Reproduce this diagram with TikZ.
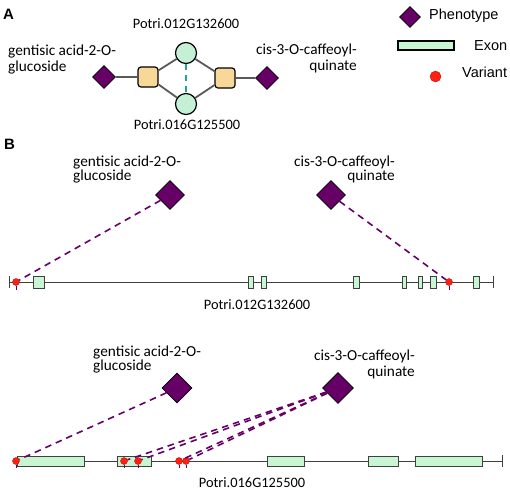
\documentclass[tikz,border=0pt]{standalone}
\usepackage{fontspec}
\setmainfont{Carlito}
\newfontfamily\arialfont{Liberation Sans}
\usetikzlibrary{shapes.geometric}
\definecolor{pheno}{HTML}{660066}
\definecolor{exonfill}{HTML}{C8F5D2}
\definecolor{genefill}{HTML}{C4F0D6}
\definecolor{sqfill}{HTML}{F7D898}
\definecolor{myteal}{HTML}{2A9D9D}
\definecolor{netgray}{HTML}{595959}
\definecolor{varred}{HTML}{FF2010}
\tikzset{
  phenobox/.style={diamond, draw=black, fill=pheno, line width=0.8pt, inner sep=0pt, minimum width=#1, minimum height=#1},
  phenobox/.default=23pt,
  sqbox/.style={rectangle, rounded corners=3pt, draw=black, line width=1.2pt, fill=sqfill, minimum size=20pt, inner sep=0pt},
  gnbox/.style={circle, draw=black, line width=1.2pt, fill=genefill, minimum size=21pt, inner sep=0pt},
  netline/.style={draw=netgray, line width=1.8pt},
  tealdash/.style={draw=myteal, line width=1.8pt, dash pattern=on 6pt off 5pt},
  phenolink/.style={draw=pheno, line width=1.6pt, dash pattern=on 6.5pt off 5pt},
  exonbox/.style={rectangle, draw=black!75, fill=exonfill, line width=0.7pt, inner sep=0pt, anchor=west},
  varbox/.style={circle, fill=varred, draw=red!70!black, line width=0.3pt, inner sep=0pt, minimum size=#1},
  varbox/.default=7pt,
  geneline/.style={draw=black!75, line width=0.9pt},
  lbl/.style={font=\fontsize{15.3}{#1}\selectfont, inner sep=0pt},
  lbl/.default=16,
  genelbl/.style={font=\fontsize{14.4}{16}\selectfont, inner sep=0pt, anchor=base},
  leg/.style={font=\arialfont\fontsize{14.5}{17}\selectfont, inner sep=0pt, anchor=base west},
  panel/.style={font=\arialfont\bfseries\fontsize{15}{17}\selectfont, inner sep=0pt, anchor=base west},
}
\begin{document}
\begin{tikzpicture}[x=1pt,y=-1pt]
\useasboundingbox (0,0) rectangle (510,491);
% ---------- Panel A ----------
\node[panel] (labA) at (3,19) {A};
\node[genelbl] (tA1) at (186,28) {Potri.012G132600};
\node[genelbl] (tA2) at (187,129) {Potri.016G125500};
\node[lbl=16, anchor=base west, align=left] (tAl) at (8,71) {gentisic acid-2-O-\\glucoside};
\node[lbl=16, anchor=base east, align=right] (tAr) at (357,70.5) {cis-3-O-caffeoyl-\\quinate};
\node[phenobox] (dA1) at (104,77) {};
\node[phenobox] (dA2) at (267,78) {};
\node[sqbox] (sA1) at (148,77) {};
\node[sqbox] (sA2) at (225,78) {};
\node[gnbox] (cA1) at (186,53) {};
\node[gnbox] (cA2) at (186,104) {};
\draw[netline] (dA1) -- (sA1);
\draw[netline] (sA1) -- (cA1);
\draw[netline] (sA1) -- (cA2);
\draw[netline] (cA1) -- (sA2);
\draw[netline] (cA2) -- (sA2);
\draw[netline] (sA2) -- (dA2);
\draw[tealdash] (cA1) -- (cA2);
% legend
\node[phenobox=21pt] (lgD) at (410,17) {};
\node[leg] (lgDt) at (429,19) {Phenotype};
\node[rectangle, draw=black, line width=1.2pt, fill=exonfill, minimum width=56pt, minimum height=9pt, inner sep=0pt] (lgE) at (426,45.5) {};
\node[leg] (lgEt) at (474,50) {Exon};
\node[varbox=11pt] (lgV) at (435.5,76.5) {};
\node[leg] (lgVt) at (462,77) {Variant};
% ---------- Panel B ----------
\node[panel] (labB) at (4,149) {B};
% gene 1
\node[lbl=14.5, anchor=base west, align=left] (tB1l) at (73,180.5) {gentisic acid-2-O-\\glucoside};
\node[lbl=14.5, anchor=base east, align=right] (tB1r) at (395,180.5) {cis-3-O-caffeoyl-\\quinate};
\node[phenobox=29pt] (dB1) at (170,195) {};
\node[phenobox=29pt] (dB2) at (331,195) {};
\coordinate (g1s) at (9,282);
\coordinate (g1e) at (493,282);
\draw[geneline] (g1s) -- (g1e);
\draw[geneline] ([yshift=-6pt]g1s) -- ([yshift=6pt]g1s);
\draw[geneline] ([yshift=-6pt]g1e) -- ([yshift=6pt]g1e);
\foreach \xa/\w in {33/11, 248/5, 261/5, 353/6, 402/3.5, 418/4, 430/6, 473/6}
  \node[exonbox, minimum width=\w pt, minimum height=12pt] at (\xa,282) {};
\node[genelbl] (tG1) at (257,309.5) {Potri.012G132600};
\node[varbox] (v11) at (16,282) {};
\node[varbox] (v12) at (449,282) {};
\draw[draw=pheno, line width=1pt] (v11.south) -- ++(0,4);
\draw[draw=pheno, line width=1pt] (v12.south) -- ++(0,4);
\draw[phenolink] (dB1) -- (v11);
\draw[phenolink] (dB2) -- (v12);
% gene 2
\node[lbl=14.5, anchor=base west, align=left] (tB2l) at (93,370.5) {gentisic acid-2-O-\\glucoside};
\node[lbl=16, anchor=base east, align=right] (tB2r) at (415,376) {cis-3-O-caffeoyl-\\quinate};
\node[phenobox=30pt] (dC1) at (177,388) {};
\node[phenobox=31pt] (dC2) at (338,388) {};
\coordinate (g2s) at (16,461);
\coordinate (g2e) at (502,461);
\draw[geneline] (g2s) -- (g2e);
\draw[geneline] ([yshift=-6pt]g2e) -- ([yshift=6pt]g2e);
\foreach \xa/\w in {17/67, 117/34, 267/37, 368/30, 415/67}
  \node[exonbox, minimum width=\w pt, minimum height=10pt] at (\xa,461) {};
\node[genelbl] (tG2) at (252,487) {Potri.016G125500};
\node[varbox] (v21) at (16,461) {};
\node[varbox] (v22) at (124,461) {};
\node[varbox] (v23) at (138,461) {};
\node[varbox] (v24) at (179,461) {};
\node[varbox] (v25) at (186,461) {};
\foreach \v in {v21,v22,v23,v24,v25}
  \draw[draw=pheno, line width=1pt] (\v.south) -- ++(0,3);
\draw[phenolink] (dC1) -- (v21);
\foreach \v in {v22,v23,v24,v25}
  \draw[phenolink] (dC2) -- (\v);
\end{tikzpicture}
\end{document}
